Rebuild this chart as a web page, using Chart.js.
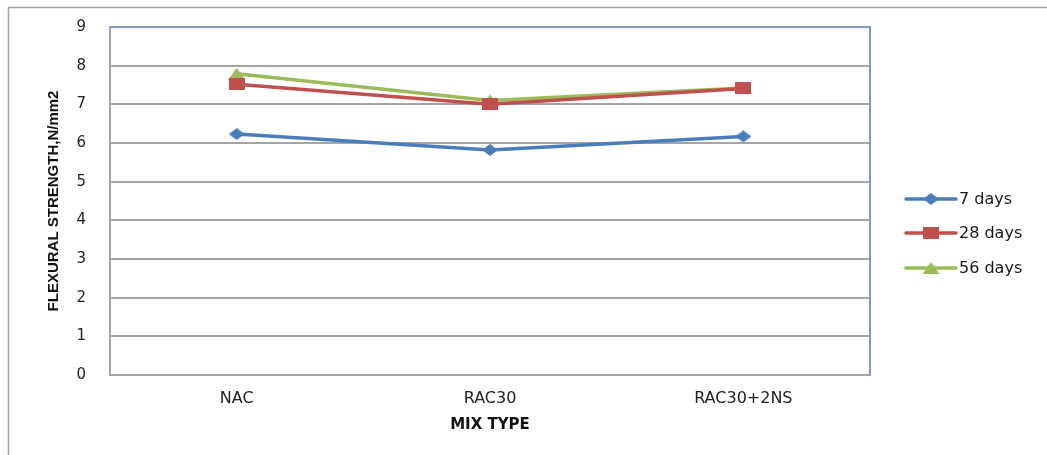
<!DOCTYPE html>
<html>
<head>
<meta charset="utf-8">
<script src="https://cdn.jsdelivr.net/npm/chart.js@4/dist/chart.umd.min.js"></script>
<style>
  html, body { margin: 0; padding: 0; background: #fff; }
  #wrap { width: 1047px; height: 455px; position: relative; }
</style>
</head>
<body>
<div id="wrap"><canvas id="c" width="1047" height="455"></canvas></div>
<script>
// Flexural strength (N/mm2) by mix type and curing age
const mixTypes = ['NAC', 'RAC30', 'RAC30+2NS'];
const days7  = [6.23, 5.82, 6.17];
const days28 = [7.52, 7.00, 7.41];
const days56 = [7.79, 7.10, 7.42];
const seriesNames = ['7 days', '28 days', '56 days'];
const yTicks = [0, 1, 2, 3, 4, 5, 6, 7, 8, 9];

const BLUE = '#4a7ebb', RED = '#c0504d', GREEN = '#9bbb59';

// Marker sprites (slightly wide, like office-style chart markers)
function sprite(w, h, color, shape) {
  const c = document.createElement('canvas');
  c.width = w; c.height = h;
  const g = c.getContext('2d');
  g.fillStyle = color;
  g.beginPath();
  if (shape === 'diamond') {
    g.moveTo(w / 2, 0); g.lineTo(w, h / 2); g.lineTo(w / 2, h); g.lineTo(0, h / 2);
  } else if (shape === 'square') {
    g.rect(0, 0, w, h);
  } else {
    g.moveTo(w / 2, 0); g.lineTo(w, h); g.lineTo(0, h);
  }
  g.closePath();
  g.fill();
  return c;
}
const diamond = sprite(16, 12, BLUE, 'diamond');
const square = sprite(16, 12, RED, 'square');
const triangle = sprite(17, 12, GREEN, 'triangle');

const FONT = "'DejaVu Sans', sans-serif";

// Outer frame and blue plot border
const framePlugin = {
  id: 'frame',
  beforeDraw(chart) {
    const ctx = chart.ctx;
    ctx.save();
    ctx.strokeStyle = '#a5a5a5';
    ctx.lineWidth = 1.5;
    ctx.strokeRect(8.5, 7.5, 1100, 500);
    ctx.restore();
  },
  beforeDatasetsDraw(chart) {
    const a = chart.chartArea, ctx = chart.ctx;
    ctx.save();
    ctx.strokeStyle = '#7a9ad0';
    ctx.lineWidth = 2;
    ctx.beginPath();
    ctx.moveTo(a.left, a.top);
    ctx.lineTo(a.right, a.top);
    ctx.lineTo(a.right, a.bottom);
    ctx.stroke();
    ctx.restore();
  }
};

// Legend on the right: line + marker + label
const sideLegend = {
  id: 'sideLegend',
  afterDraw(chart) {
    const ctx = chart.ctx;
    const rows = [199, 233, 268];
    chart.data.datasets.forEach((ds, i) => {
      const y = rows[i];
      ctx.save();
      ctx.strokeStyle = ds.borderColor;
      ctx.lineWidth = 3.5;
      ctx.lineCap = 'round';
      ctx.beginPath();
      ctx.moveTo(906, y);
      ctx.lineTo(956, y);
      ctx.stroke();
      const img = ds.pointStyle;
      ctx.drawImage(img, 931 - img.width / 2, y - img.height / 2);
      ctx.fillStyle = '#1a1a1a';
      ctx.font = '16px ' + FONT;
      ctx.textBaseline = 'middle';
      ctx.textAlign = 'left';
      ctx.fillText(ds.label, 959, y + 1);
      ctx.restore();
    });
  }
};

new Chart(document.getElementById('c'), {
  type: 'line',
  data: {
    labels: mixTypes,
    datasets: [
      { label: seriesNames[0], data: days7, borderColor: BLUE, backgroundColor: BLUE, pointStyle: diamond },
      { label: seriesNames[1], data: days28, borderColor: RED, backgroundColor: RED, pointStyle: square },
      { label: seriesNames[2], data: days56, borderColor: GREEN, backgroundColor: GREEN, pointStyle: triangle }
    ]
  },
  options: {
    responsive: false,
    animation: false,
    events: [],
    layout: { padding: { left: 0, top: 27, right: 177, bottom: 0 } },
    elements: {
      line: { borderWidth: 3.5, tension: 0 },
      point: { radius: 8, hoverRadius: 8 }
    },
    plugins: {
      legend: { display: false },
      tooltip: { enabled: false }
    },
    scales: {
      x: {
        offset: true,
        grid: { display: false, drawTicks: false },
        border: { display: true, color: '#a5a5a5', width: 2 },
        ticks: { color: '#222', font: { family: FONT, size: 16 }, padding: 14 },
        title: {
          display: true, text: 'MIX TYPE', color: '#111',
          font: { family: FONT, size: 15, weight: 'bold' },
          padding: { top: 0, bottom: 21 }
        },
        afterFit(scale) { scale.height = 80; }
      },
      y: {
        min: 0, max: 9,
        afterBuildTicks(scale) { scale.ticks = yTicks.map(v => ({ value: v })); },
        grid: {
          drawTicks: false,
          lineWidth: 2,
          color: ctx => (ctx.tick && ctx.tick.value === 9) ? '#7a9ad0' : '#a5a5a5'
        },
        border: { display: true, color: '#a5a5a5', width: 2 },
        ticks: { color: '#1f1f1f', font: { family: FONT, size: 15 }, padding: 24 },
        title: {
          display: true, text: 'FLEXURAL STRENGTH,N/mm2', color: '#111',
          font: { family: "'Liberation Sans', sans-serif", size: 15, weight: 'bold' },
          padding: { top: 45, bottom: 0 }
        },
        afterFit(scale) {
          scale.width = 110;
          scale.paddingTop = 0;
          scale.paddingBottom = 0;
        }
      }
    }
  },
  plugins: [framePlugin, sideLegend]
});
</script>
</body>
</html>
